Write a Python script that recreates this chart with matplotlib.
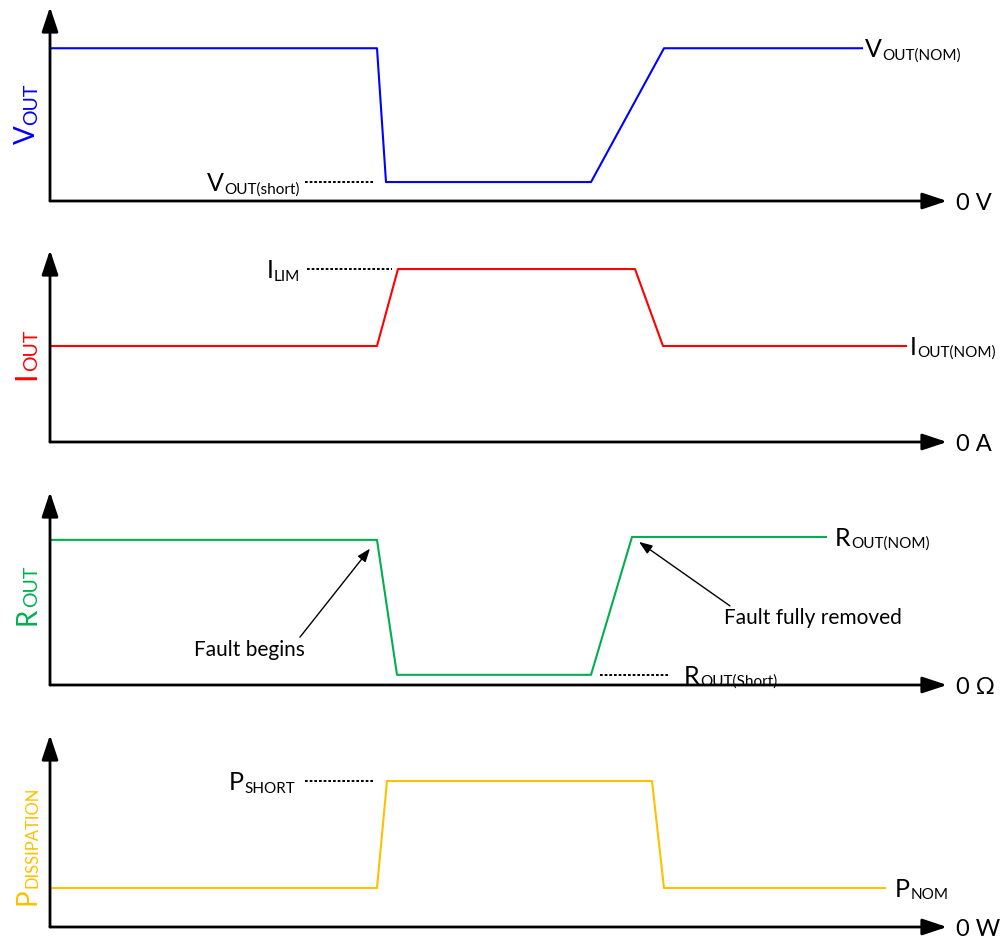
import matplotlib
matplotlib.use('Agg')
import matplotlib.pyplot as plt

plt.rcParams['font.family'] = ['Lato', 'DejaVu Sans']

W, H = 1000, 939

# time axis (arbitrary units), levels normalised per panel
t_v = [0, 32.7, 33.6, 54.1, 61.4, 81.2]
v_out = [1.0, 1.0, 0.124, 0.124, 1.0, 1.0]

t_i = [0, 32.7, 34.8, 58.5, 61.3, 85.6]
i_out = [0.555, 0.555, 1.0, 1.0, 0.555, 0.555]

t_r = [0, 32.7, 34.7, 54.1, 58.2, 77.6]
r_out = [1.0, 1.0, 0.07, 0.07, 1.02, 1.02]

t_p = [0, 32.7, 33.7, 60.2, 61.4, 83.5]
p_diss = [0.267, 0.267, 1.0, 1.0, 0.267, 0.267]

BLUE = '#0000FF'
RED = '#FF0000'
GREEN = '#00B050'
ORANGE = '#FFC000'

fig = plt.figure(figsize=(W / 100, H / 100), dpi=100)


def panel(axis_px, top_px, ytop, unit):
    ax = fig.add_axes([50 / W, (H - axis_px) / H, 950 / W, (axis_px - top_px) / H])
    ax.set_xlim(0, 95)
    ax.set_ylim(0, ytop)
    ax.axis('off')
    arrow = dict(arrowstyle='-|>,head_length=1.5,head_width=0.5', color='black',
                 lw=2, shrinkA=0, shrinkB=0)
    ax.annotate('', xy=(89.7, 0), xytext=(0, 0), arrowprops=arrow, annotation_clip=False)
    ax.annotate('', xy=(0, ytop), xytext=(0, 0), arrowprops=arrow, annotation_clip=False)
    ax.annotate(unit, xy=(90.6, 0), xytext=(0, -0.36 * 17), textcoords='offset points',
                ha='left', va='baseline', fontsize=17, annotation_clip=False)
    return ax


def label_left(ax, x, y, main, sub, size=18, sub_size=11):
    m = ax.annotate(main, (x, y), xytext=(0, -0.36 * size), textcoords='offset points',
                    ha='left', va='baseline', fontsize=size, annotation_clip=False)
    ax.annotate(sub, xy=(1, 0), xycoords=m, xytext=(0.3, 1.4), textcoords='offset points',
                ha='left', va='baseline', fontsize=sub_size)


def label_right(ax, x, y, main, sub, size=18, sub_size=11):
    s = ax.annotate(sub, (x, y), xytext=(0, -0.36 * size - 2.2), textcoords='offset points',
                    ha='right', va='baseline', fontsize=sub_size, annotation_clip=False)
    ax.annotate(main, xy=(0, 0), xycoords=s, xytext=(-0.3, 0.2 * sub_size + 2.2),
                textcoords='offset points', ha='right', va='baseline', fontsize=size)


def y_label(ax, x_px, y_px, main, sub, color, size=20, sub_size=14):
    m = ax.annotate(main, xy=(x_px, H - y_px), xycoords='figure pixels', rotation=90,
                    rotation_mode='anchor', ha='left', va='baseline', fontsize=size,
                    color=color)
    ax.annotate(sub, xy=(1, 1), xycoords=m, xytext=(-1.8, 0.5), textcoords='offset points',
                rotation=90, rotation_mode='anchor', ha='left', va='baseline',
                fontsize=sub_size, color=color)


def ref_line(ax, t0, t1, y):
    ax.plot([t0, t1], [y, y], color='black', lw=1.4, dashes=(1.4, 1.0), clip_on=False)


# V_OUT
ax1 = panel(201, 7, 1.27, '0 V')
ax1.plot(t_v, v_out, color=BLUE, lw=1.5, clip_on=False)
ref_line(ax1, 25.5, 32.5, v_out[2])
label_right(ax1, 25.0, v_out[2], 'V', 'OUT(short)')
label_left(ax1, 81.5, v_out[-1], 'V', 'OUT(NOM)')
y_label(ax1, 35, 144, 'V', 'OUT', BLUE)

# I_OUT
ax2 = panel(442, 250, 1.11, '0 A')
ax2.plot(t_i, i_out, color=RED, lw=1.5, clip_on=False)
ref_line(ax2, 25.7, 34.2, i_out[2])
label_right(ax2, 25.0, i_out[2], 'I', 'LIM')
label_left(ax2, 86.0, i_out[-1], 'I', 'OUT(NOM)')
y_label(ax2, 35, 380, 'I', 'OUT', RED, size=22)

# R_OUT
ax3 = panel(685, 492, 1.33, '0 Ω')
ax3.plot(t_r, r_out, color=GREEN, lw=1.5, clip_on=False)
ref_line(ax3, 55.0, 62.0, r_out[2])
label_left(ax3, 63.4, r_out[2], 'R', 'OUT(Short)')
label_left(ax3, 78.5, r_out[-1], 'R', 'OUT(NOM)')
y_label(ax3, 35, 625, 'R', 'OUT', GREEN)

small_arrow = dict(arrowstyle='-|>,head_length=0.8,head_width=0.3', color='black',
                   lw=1, shrinkA=0, shrinkB=0)
ax3.annotate('', xy=(32.0, 0.94), xytext=(25.0, 0.33), arrowprops=small_arrow)
ax3.text(19.9, 0.24, 'Fault begins', fontsize=15, ha='center', va='center')
ax3.annotate('', xy=(58.9, 0.986), xytext=(68.0, 0.545), arrowprops=small_arrow)
ax3.text(76.3, 0.46, 'Fault fully removed', fontsize=15, ha='center', va='center')

# P_DISSIPATION
ax4 = panel(927, 735, 1.315, '0 W')
ax4.plot(t_p, p_diss, color=ORANGE, lw=1.5, clip_on=False)
ref_line(ax4, 25.5, 32.5, p_diss[2])
label_right(ax4, 24.5, p_diss[2], 'P', 'SHORT')
label_left(ax4, 84.5, p_diss[-1], 'P', 'NOM')
y_label(ax4, 35, 905, 'P', 'DISSIPATION', ORANGE, sub_size=12)

fig.savefig('out.png', dpi=100)
